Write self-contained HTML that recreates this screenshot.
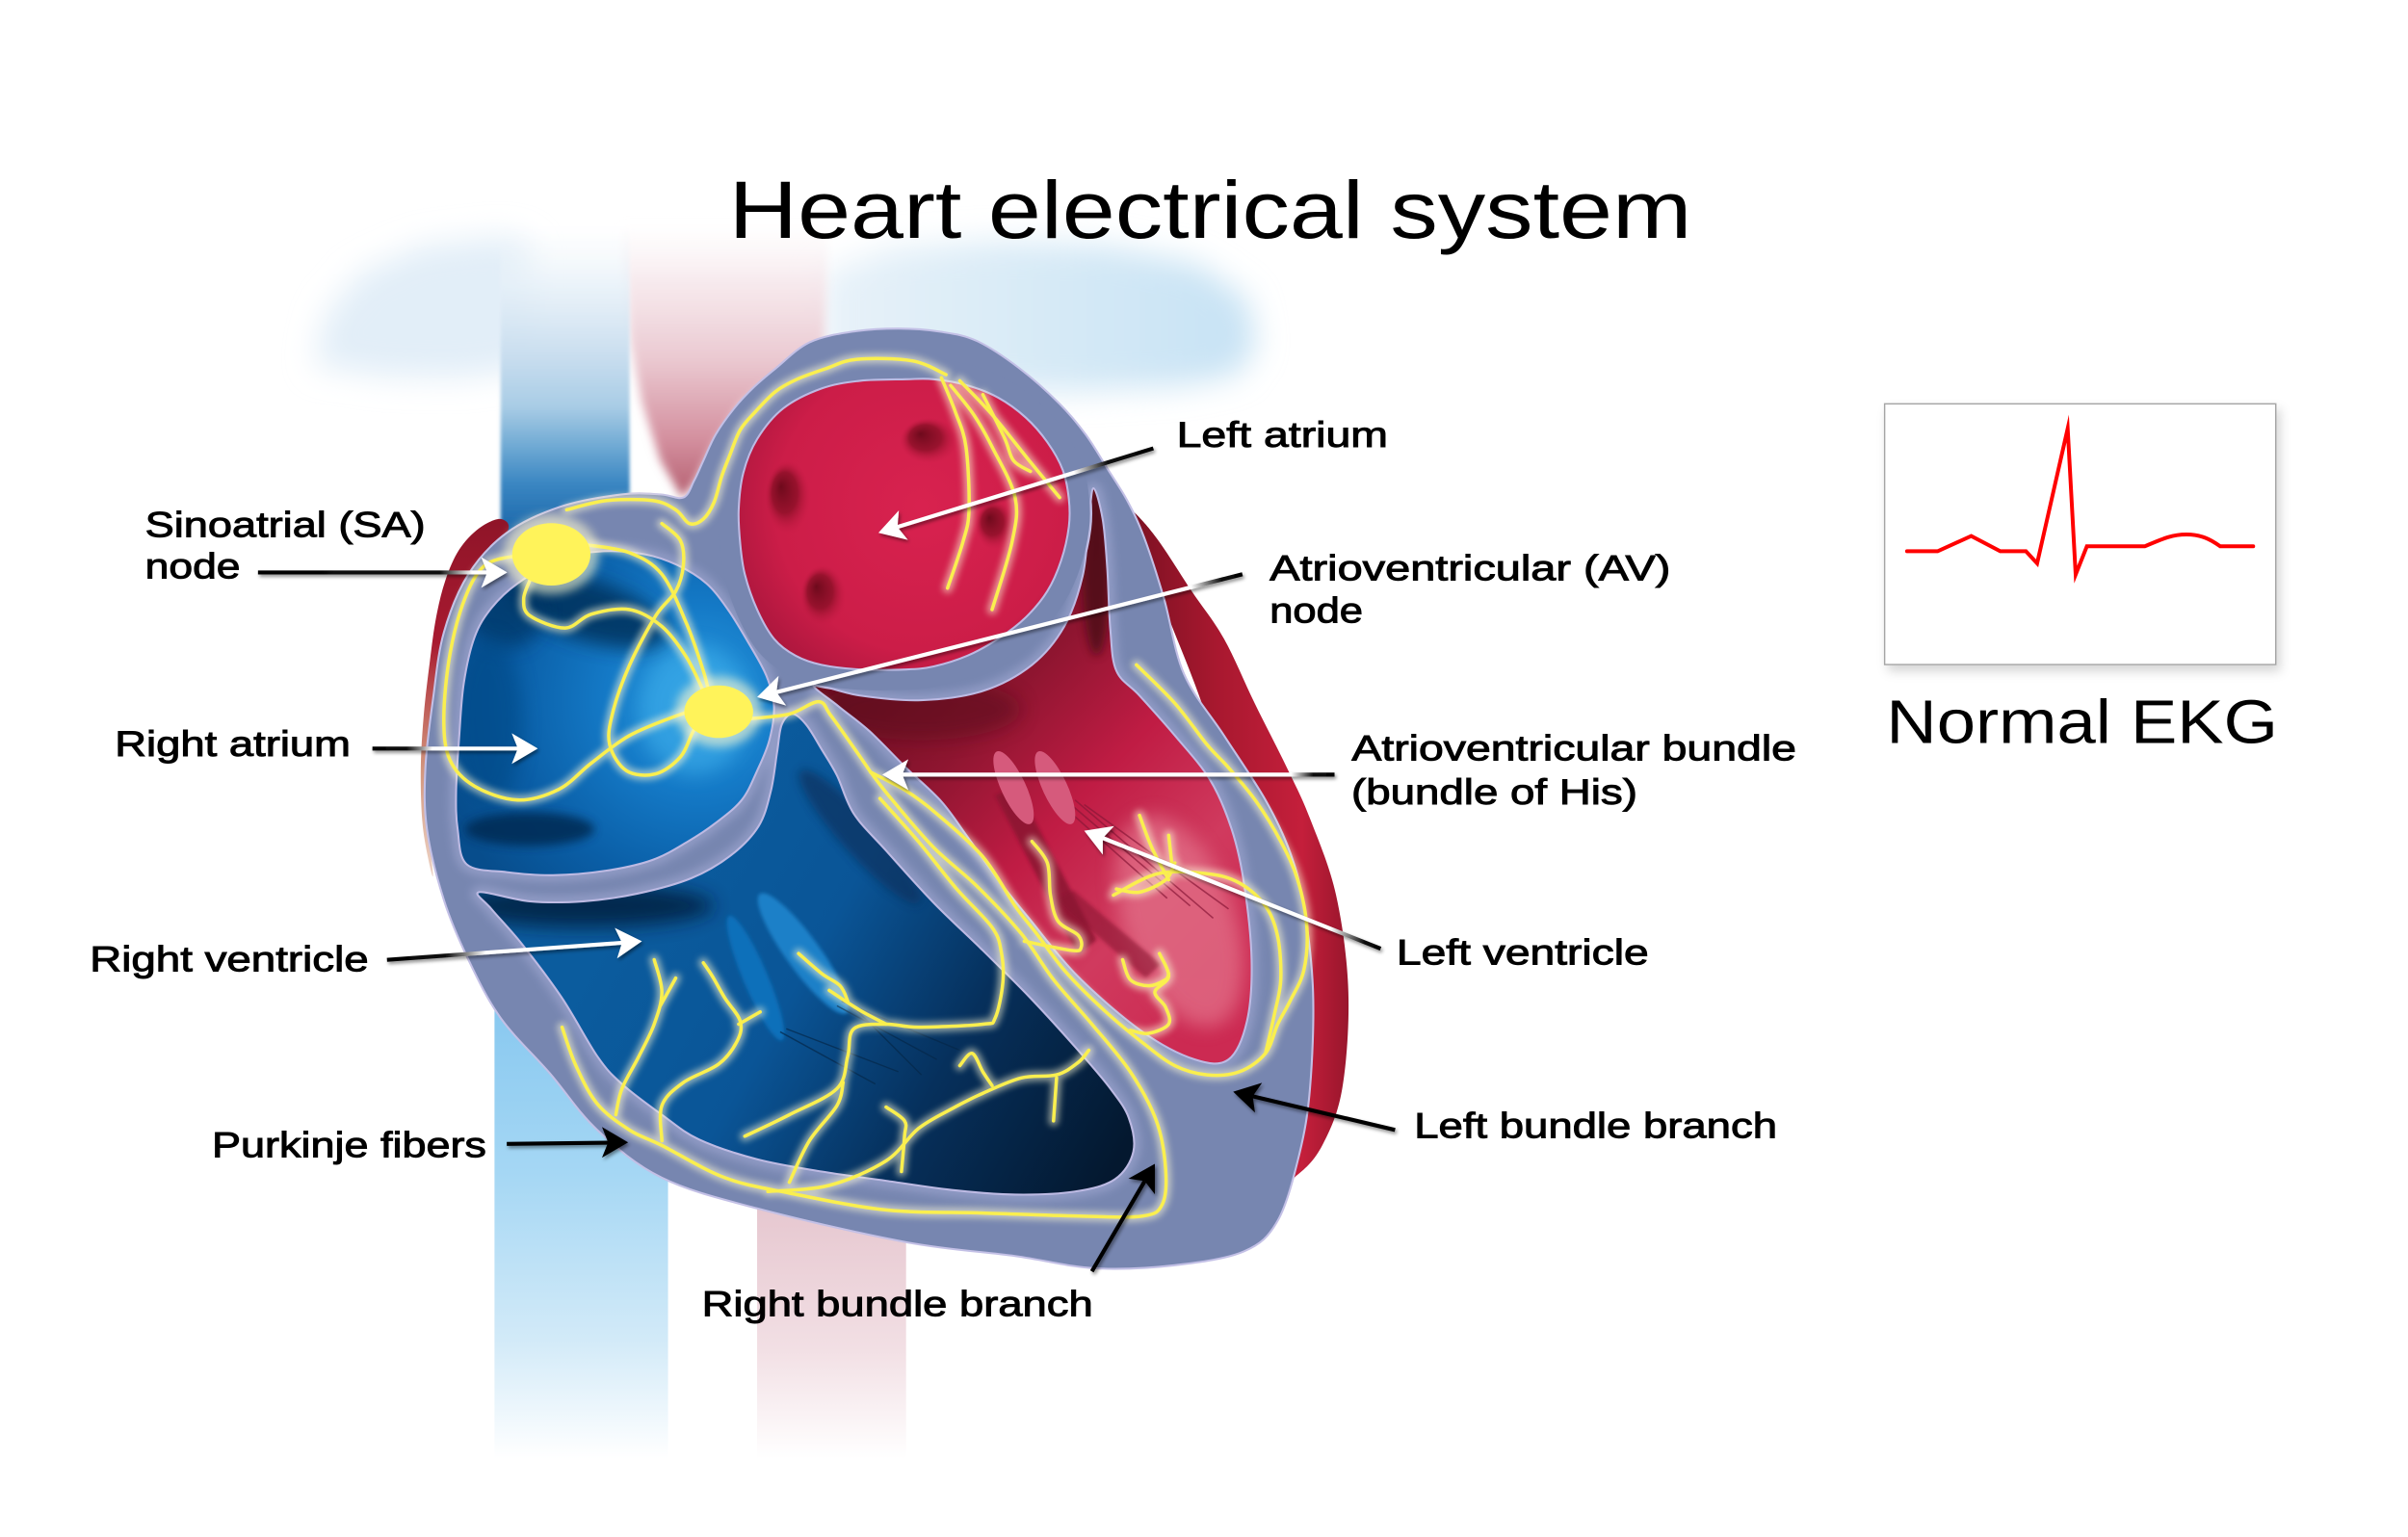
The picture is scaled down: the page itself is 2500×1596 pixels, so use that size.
<!DOCTYPE html>
<html><head><meta charset="utf-8"><title>Heart electrical system</title>
<style>
html,body{margin:0;padding:0;background:#fff;}
svg{display:block;}
text{font-family:"Liberation Sans",Arial,sans-serif;}
</style></head><body>
<svg xmlns="http://www.w3.org/2000/svg" width="2500" height="1596" viewBox="0 0 1568 1001">
<defs>
<filter id="bl12" x="-50%" y="-50%" width="200%" height="200%"><feGaussianBlur stdDeviation="10"/></filter>
<filter id="bl6" x="-50%" y="-50%" width="200%" height="200%"><feGaussianBlur stdDeviation="6"/></filter>
<filter id="bl3" x="-50%" y="-50%" width="200%" height="200%"><feGaussianBlur stdDeviation="3"/></filter>
<filter id="bl1" x="-50%" y="-50%" width="200%" height="200%"><feGaussianBlur stdDeviation="1.2"/></filter>
<filter id="glow" x="-10%" y="-10%" width="120%" height="120%"><feGaussianBlur stdDeviation="2.2"/></filter>
<filter id="sh" x="-20%" y="-60%" width="140%" height="220%"><feDropShadow dx="1" dy="1.5" stdDeviation="1.2" flood-color="#000" flood-opacity="0.45"/></filter>
<filter id="boxsh" x="-10%" y="-10%" width="125%" height="130%"><feDropShadow dx="2.5" dy="4" stdDeviation="3.5" flood-color="#000" flood-opacity="0.16"/></filter>

<linearGradient id="gSVC" gradientUnits="userSpaceOnUse" x1="0" y1="145" x2="0" y2="345">
<stop offset="0" stop-color="#f2f7fb" stop-opacity="0"/><stop offset="0.2" stop-color="#e6f0f8" stop-opacity="0.8"/><stop offset="0.45" stop-color="#c6dcee"/><stop offset="0.6" stop-color="#a8cce5"/><stop offset="0.74" stop-color="#6aa6d2"/><stop offset="0.85" stop-color="#3a86c2"/><stop offset="1" stop-color="#1c68ab"/></linearGradient>
<linearGradient id="gAo" gradientUnits="userSpaceOnUse" x1="0" y1="145" x2="0" y2="325">
<stop offset="0" stop-color="#f9f1f3" stop-opacity="0"/><stop offset="0.2" stop-color="#f6e8ec" stop-opacity="0.85"/><stop offset="0.5" stop-color="#eac8d0"/><stop offset="0.78" stop-color="#d4909f"/><stop offset="1" stop-color="#b45e6f"/></linearGradient>
<linearGradient id="gCloudR" gradientUnits="userSpaceOnUse" x1="536" y1="0" x2="818" y2="0">
<stop offset="0" stop-color="#e8f2f9"/><stop offset="1" stop-color="#c6e2f4"/></linearGradient>
<linearGradient id="gIVC" gradientUnits="userSpaceOnUse" x1="0" y1="640" x2="0" y2="950">
<stop offset="0" stop-color="#84c6ef"/><stop offset="0.4" stop-color="#a5d7f4"/><stop offset="0.75" stop-color="#d2eaf8"/><stop offset="1" stop-color="#ffffff"/></linearGradient>
<linearGradient id="gDA" gradientUnits="userSpaceOnUse" x1="0" y1="770" x2="0" y2="950">
<stop offset="0" stop-color="#e4c3cc"/><stop offset="0.6" stop-color="#f2dfe4"/><stop offset="1" stop-color="#ffffff"/></linearGradient>
<linearGradient id="gRed" gradientUnits="userSpaceOnUse" x1="720" y1="0" x2="880" y2="0">
<stop offset="0" stop-color="#6e0e1e"/><stop offset="0.45" stop-color="#a8182f"/><stop offset="0.8" stop-color="#c41f3b"/><stop offset="1" stop-color="#96152b"/></linearGradient>
<linearGradient id="gRedL" gradientUnits="userSpaceOnUse" x1="0" y1="335" x2="0" y2="575">
<stop offset="0" stop-color="#8e1428"/><stop offset="0.35" stop-color="#a81a30"/><stop offset="0.7" stop-color="#c06a48" stop-opacity="0.7"/><stop offset="1" stop-color="#c87a50" stop-opacity="0.3"/></linearGradient>
<radialGradient id="gRA" gradientUnits="userSpaceOnUse" cx="455" cy="455" r="175">
<stop offset="0" stop-color="#2b9de2"/><stop offset="0.35" stop-color="#1479c6"/><stop offset="0.7" stop-color="#0a5ea6"/><stop offset="1" stop-color="#074d8c"/></radialGradient>
<linearGradient id="gRV" gradientUnits="userSpaceOnUse" x1="400" y1="590" x2="720" y2="770">
<stop offset="0" stop-color="#0b5c9e"/><stop offset="0.35" stop-color="#0a5597"/><stop offset="0.65" stop-color="#06305c"/><stop offset="1" stop-color="#04182f"/></linearGradient>
<linearGradient id="gLV" gradientUnits="userSpaceOnUse" x1="560" y1="440" x2="790" y2="660">
<stop offset="0" stop-color="#6e0f22"/><stop offset="0.25" stop-color="#8e1530"/><stop offset="0.5" stop-color="#c01c44"/><stop offset="0.75" stop-color="#d03a5e"/><stop offset="1" stop-color="#cc2a52"/></linearGradient>
<radialGradient id="gLA" gradientUnits="userSpaceOnUse" cx="600" cy="330" r="135">
<stop offset="0" stop-color="#d8224f"/><stop offset="0.7" stop-color="#cc1d48"/><stop offset="1" stop-color="#a8163c"/></radialGradient>
<radialGradient id="gHole" cx="0.5" cy="0.5" r="0.5" fx="0.35" fy="0.35">
<stop offset="0" stop-color="#6e0a1c" stop-opacity="1"/><stop offset="0.55" stop-color="#8a0f26" stop-opacity="0.8"/><stop offset="1" stop-color="#c41a44" stop-opacity="0"/></radialGradient>

<linearGradient id="gaSA" gradientUnits="userSpaceOnUse" x1="168" y1="372.8" x2="318" y2="372.8">
<stop offset="0" stop-color="#000"/><stop offset="0.79" stop-color="#111"/><stop offset="0.86" stop-color="#888"/><stop offset="0.93" stop-color="#fff"/><stop offset="1" stop-color="#fff"/></linearGradient>
<linearGradient id="gaRA" gradientUnits="userSpaceOnUse" x1="242.5" y1="487.5" x2="338" y2="487.5">
<stop offset="0" stop-color="#000"/><stop offset="0.235" stop-color="#111"/><stop offset="0.33" stop-color="#888"/><stop offset="0.41" stop-color="#fff"/><stop offset="1" stop-color="#fff"/></linearGradient>
<linearGradient id="gaRV" gradientUnits="userSpaceOnUse" x1="252" y1="625.1" x2="405" y2="614">
<stop offset="0" stop-color="#000"/><stop offset="0.25" stop-color="#111"/><stop offset="0.34" stop-color="#888"/><stop offset="0.42" stop-color="#fff"/><stop offset="1" stop-color="#fff"/></linearGradient>
<linearGradient id="gaLA" gradientUnits="userSpaceOnUse" x1="751" y1="292" x2="584" y2="343">
<stop offset="0" stop-color="#000"/><stop offset="0.18" stop-color="#111"/><stop offset="0.25" stop-color="#888"/><stop offset="0.31" stop-color="#fff"/><stop offset="1" stop-color="#fff"/></linearGradient>
<linearGradient id="gaAV" gradientUnits="userSpaceOnUse" x1="809" y1="374" x2="506" y2="451">
<stop offset="0" stop-color="#000"/><stop offset="0.045" stop-color="#111"/><stop offset="0.08" stop-color="#888"/><stop offset="0.11" stop-color="#fff"/><stop offset="1" stop-color="#fff"/></linearGradient>
<linearGradient id="gaHis" gradientUnits="userSpaceOnUse" x1="869" y1="504.5" x2="587.5" y2="504.5">
<stop offset="0" stop-color="#000"/><stop offset="0.05" stop-color="#111"/><stop offset="0.075" stop-color="#888"/><stop offset="0.1" stop-color="#fff"/><stop offset="1" stop-color="#fff"/></linearGradient>
<linearGradient id="gaLV" gradientUnits="userSpaceOnUse" x1="899" y1="617.8" x2="718" y2="545.8">
<stop offset="0" stop-color="#000"/><stop offset="0.06" stop-color="#111"/><stop offset="0.12" stop-color="#888"/><stop offset="0.18" stop-color="#fff"/><stop offset="1" stop-color="#fff"/></linearGradient>

<!-- heart shapes -->
<polygon id="silS" class="sm" points="445,324 452,313 458,300 466,283 478,266 491,252 505,240 527,223 555,216 585,214 612,216 636,222 664,240 690,263 707,283 721,305 734,326 745,350 758,390 771,439 797,479 824,521 840,555 849,590 855,646 853,709 846,752 832,795 810,815 765,824 713,826 661,818 590,809 493,787 431,767 389,736 358,699 326,663 305,625 289,586 278,540 277,500 282,455 289,412 305,374 330,347 365,330 405,322 430,322"/>
<polygon id="raS" class="sm" points="365,364 393,359 420,361 441,368 460,380 474,397 487,418 499,440 504,460 501,482 493,502 483,521 466,536 448,548 425,560 395,567 360,570 330,568 304,563 298,540 297,515 299,480 302,445 309,415 320,396 337,380"/>
<polygon id="rvS" class="sm" points="312,581 345,587 380,587 415,582 450,572 476,557 494,538 502,515 506,490 509,472 516,465 525,472 535,488 545,505 556,530 577,554 608,588 640,619 671,650 702,684 723,709 735,728 738,750 726,768 700,776 661,778 620,775 577,769 535,763 493,755 455,742 431,726 405,706 389,688 366,650 340,615 320,592"/>
<polygon id="lvS" class="sm" points="530,446 560,453 600,456 640,450 672,433 693,408 705,375 709,340 712,318 718,338 721,370 723,410 727,437 742,453 765,479 788,508 802,540 810,575 815,625 812,665 800,690 778,690 744,672 702,636 670,598 650,573 630,545 613,522 590,500 566,476 546,460"/>
<polygon id="laS" class="sm" points="590,247 560,248 535,253 510,266 493,286 484,308 481,332 482,354 485,374 493,397 504,416 518,427 535,433 560,436 590,436 608,434 630,427 650,416 668,402 682,385 691,365 696,343 696,325 692,306 682,288 668,272 650,259 630,251 608,247"/>
<clipPath id="cRA"><use href="#raS"/></clipPath>
<clipPath id="cRV"><use href="#rvS"/></clipPath>
<clipPath id="cLV"><use href="#lvS"/></clipPath>
<clipPath id="cLA"><use href="#laS"/></clipPath>

<!-- conduction lines -->
<g id="yl" fill="none">
<polyline class="sm" points="369,332 395,326 425,326 440,332 449,341 458,338 465,327 470,310 475,297 482,280 492,268 505,255 519,247 538,240 558,234 594,235 616,244"/>
<polyline class="sm" points="613,246 622,268 629,291 631,332 627,353 617,383"/>
<polyline class="sm" points="619,251 634,270 646,291 661,324 659,353 646,397"/>
<polyline class="sm" points="625,248 646,270 671,301 690,324"/>
<polyline class="sm" points="640,257 654,285 660,300 671,307"/>
<polyline class="sm" points="383,355 410,360 431,374 447,406 458,437 462,453"/>
<polyline class="sm" points="431,341 443,352 445,368 440,385 427,401 410,433 399,464 397,485 408,502 427,504 443,493 451,477 458,465"/>
<polyline class="sm" points="345,378 341,390 345,401 368,409 385,400 410,397 431,408 447,428 458,450"/>
<polyline class="sm" points="336,362 316,368 303,389 293,426 289,468 293,495 309,512 337,521 364,514 385,497 410,479 441,466 455,462"/>
<polyline class="sm" points="489,468 514,465 533,457 541,466 556,487 567,503"/>
<polyline class="sm" points="567,503 581,521 608,552 636,577 665,608 686,638 711,667 736,698 753,730 759,761 757,784 744,792 702,792 640,790 577,788 514,777 472,767 431,746 410,736 389,719 375,694 366,669"/>
<polyline class="sm" points="500,776 540,772 577,756 598,735 620,722 640,712 665,702 688,700 702,692 709,684"/>
<polyline class="sm" points="688,702 686,730"/>
<polyline class="sm" points="573,520 598,548 623,579 646,604 652,620 653,640 648,663 640,667 598,669 577,667 556,670 552,688 545,709 514,726 485,740"/>
<polyline class="sm" points="567,503 590,515 610,530 640,558 661,590 675,608 694,633 719,658 744,679 765,694 786,700 807,698 824,686 832,667 840,652 849,632 851,604 845,573 834,548 818,522 800,500 786,485 765,458 740,433"/>
<polyline class="sm" points="725,583 754,569 786,569 807,575 824,590 832,610 834,638 830,660 824,686"/>
<polyline class="sm" points="401,726 405,709 416,688 426,667 431,646 426,625"/>
<polyline class="sm" points="430,655 440,637"/>
<polyline class="sm" points="431,743 431,720 445,705 468,693 480,678 482,665 472,650 464,636 458,627"/>
<polyline class="sm" points="481,667 495,659"/>
<polyline class="sm" points="514,770 527,743 545,720 549,705"/>
<polyline class="sm" points="520,621 535,634 547,642 552,652"/>
<polyline class="sm" points="540,645 560,658 577,667"/>
<polyline class="sm" points="625,694 633,686 640,698 646,707"/>
<polyline class="sm" points="577,721 589,730 589,740 587,763"/>
<polyline class="sm" points="672,548 682,562 684,583 689,600 702,609 704,617 698,619 667,613"/>
<polyline class="sm" points="731,625 736,638 748,642 759,638 761,634"/>
<polyline class="sm" points="755,621 761,636 752,646 759,656 761,667 748,673 736,671"/>
<polyline class="sm" points="727,579 742,581 759,573 765,562"/>
<polyline class="sm" points="742,531 750,552 761,573"/>
<polyline class="sm" points="761,544 763,562"/>
</g>
</defs>

<rect x="0" y="0" width="1568" height="1001" fill="#fff"/>

<!-- background vessels -->
<polygon points="205,238 212,205 235,178 275,160 330,154 345,160 345,240 300,246 250,245" fill="#e2eef8" filter="url(#bl12)"/>
<polygon points="536,178 580,162 650,157 720,160 780,172 812,195 818,225 805,244 770,251 700,255 620,254 560,250 536,244" fill="url(#gCloudR)" filter="url(#bl12)"/>
<polygon points="404,140 540,140 536,240 500,250 483,263 465,290 452,315 444,324 430,300 418,262 410,220" fill="url(#gAo)" filter="url(#bl3)"/>
<rect x="326" y="140" width="84" height="210" fill="url(#gSVC)" filter="url(#bl1)"/>
<rect x="322" y="620" width="113" height="330" fill="url(#gIVC)"/>
<rect x="493" y="760" width="97" height="190" fill="url(#gDA)"/>

<!-- outer red -->
<polygon class="sm" points="725,322 740,335 755,353 776,385 797,416 817,458 838,500 853,533 870,583 878,646 874,709 861,746 845,765 830,770 820,700 800,520 760,400 730,340" fill="url(#gRed)"/>
<polygon class="sm" points="326,338 312,344 299,358 290,378 284,402 280,430 276,465 274,500 275,535 279,560 282,570 279,540 277,500 282,455 289,412 305,374 330,347" fill="url(#gRedL)"/>

<!-- gray body -->
<use href="#silS" fill="#7786b0" stroke="#c3c0e6" stroke-width="1.3"/>

<!-- cavity halos -->
<g fill="none" stroke="#a7aed8" stroke-width="8" opacity="0.55" filter="url(#bl3)">
<use href="#raS"/><use href="#rvS"/><use href="#lvS"/>
</g>

<!-- right atrium -->
<g clip-path="url(#cRA)">
<use href="#raS" fill="url(#gRA)"/>
<ellipse cx="382" cy="397" rx="55" ry="20" transform="rotate(18 382 397)" fill="#06305c" opacity="0.85" filter="url(#bl6)"/>
<ellipse cx="330" cy="400" rx="24" ry="22" fill="#063564" opacity="0.7" filter="url(#bl6)"/>
<ellipse cx="318" cy="470" rx="22" ry="55" fill="#064a86" opacity="0.6" filter="url(#bl6)"/>
<ellipse cx="345" cy="540" rx="42" ry="11" fill="#052b52" opacity="0.85" filter="url(#bl3)"/>
<ellipse cx="452" cy="462" rx="36" ry="42" fill="#40b0ec" opacity="0.55" filter="url(#bl6)"/>
</g>
<use href="#raS" fill="none" stroke="#bdbae3" stroke-width="1.3"/>

<!-- right ventricle -->
<g clip-path="url(#cRV)">
<use href="#rvS" fill="url(#gRV)"/>
<ellipse cx="380" cy="590" rx="85" ry="14" fill="#041e3a" opacity="0.8" filter="url(#bl6)"/>
<ellipse cx="560" cy="545" rx="58" ry="12" transform="rotate(48 560 545)" fill="#07325e" opacity="0.7" filter="url(#bl3)"/>
<ellipse cx="492" cy="637" rx="44" ry="8" transform="rotate(67 492 637)" fill="#0e70ba" filter="url(#bl1)"/>
<ellipse cx="523" cy="621" rx="48" ry="11" transform="rotate(54 523 621)" fill="#1a80c8" filter="url(#bl1)"/>
<g stroke="#05284a" stroke-width="0.9" opacity="0.7">
<line x1="508" y1="672" x2="570" y2="706"/><line x1="512" y1="670" x2="585" y2="698"/>
<line x1="545" y1="655" x2="610" y2="690"/><line x1="548" y1="652" x2="625" y2="684"/>
<line x1="550" y1="650" x2="600" y2="700"/>
</g>
</g>
<use href="#rvS" fill="none" stroke="#bdbae3" stroke-width="1.3"/>

<!-- left ventricle -->
<g clip-path="url(#cLV)">
<use href="#lvS" fill="url(#gLV)"/>
<ellipse cx="600" cy="462" rx="65" ry="20" fill="#5a0a1a" opacity="0.55" filter="url(#bl6)"/>
<ellipse cx="714" cy="372" rx="9" ry="55" fill="#4a0814" opacity="0.8" filter="url(#bl3)"/>
<ellipse cx="768" cy="600" rx="36" ry="72" transform="rotate(-20 768 600)" fill="#e27088" opacity="0.75" filter="url(#bl6)"/>
<polygon points="648,518 662,512 714,612 702,622" fill="#8a1230" opacity="0.85" filter="url(#bl1)"/>
<polygon points="688,586 699,580 756,628 746,637" fill="#8a1230" opacity="0.6" filter="url(#bl1)"/>
<g stroke="#8a1838" stroke-width="1" opacity="0.7">
<line x1="690" y1="523" x2="760" y2="585"/><line x1="695" y1="522" x2="775" y2="590"/>
<line x1="700" y1="521" x2="790" y2="598"/><line x1="706" y1="524" x2="800" y2="592"/>
</g>
<ellipse cx="660" cy="513" rx="8" ry="26" transform="rotate(-25 660 513)" fill="#d65a7c"/>
<ellipse cx="687" cy="513" rx="8" ry="26" transform="rotate(-25 687 513)" fill="#d65a7c"/>
</g>
<use href="#lvS" fill="none" stroke="#bdbae3" stroke-width="1.3"/>

<!-- left atrium ring + cavity -->
<g clip-path="url(#cLV)"><use href="#laS" fill="none" stroke="#c0bde3" stroke-width="29.5"/></g>
<use href="#laS" fill="none" stroke="#7786b0" stroke-width="26.5" stroke-linejoin="round"/>
<g clip-path="url(#cLA)">
<use href="#laS" fill="url(#gLA)"/>
<ellipse cx="513" cy="324" rx="15" ry="24" fill="url(#gHole)"/>
<ellipse cx="536" cy="388" rx="15" ry="20" fill="url(#gHole)"/>
<ellipse cx="605" cy="287" rx="19" ry="15" fill="url(#gHole)"/>
<ellipse cx="648" cy="342" rx="13" ry="16" fill="url(#gHole)"/>
</g>
<use href="#laS" fill="none" stroke="#bdbae3" stroke-width="1.3"/>

<!-- conduction system -->
<use href="#yl" stroke="#fffbd6" stroke-width="6.5" opacity="0.55" filter="url(#glow)" stroke-linecap="round" stroke-linejoin="round"/>
<use href="#yl" stroke="#faef4e" stroke-width="2.2" stroke-linecap="round" stroke-linejoin="round"/>
<ellipse cx="359" cy="361" rx="31" ry="26" fill="#fffbd0" opacity="0.6" filter="url(#bl3)"/>
<ellipse cx="468" cy="463.5" rx="28" ry="23" fill="#fffbd0" opacity="0.6" filter="url(#bl3)"/>
<ellipse cx="359" cy="361" rx="25.5" ry="20.3" fill="#fff35a"/>
<ellipse cx="468" cy="463.5" rx="22.4" ry="17.1" fill="#fff35a"/>

<!-- arrows -->
<g filter="url(#sh)">
<line x1="168" y1="372.8" x2="318" y2="372.8" stroke="url(#gaSA)" stroke-width="2.6"/>
<polygon points="330.3,372.8 313.3,382.8 317.3,372.8 313.3,362.8" fill="#fff"/>
</g>
<g filter="url(#sh)">
<line x1="242.5" y1="487.5" x2="338" y2="487.5" stroke="url(#gaRA)" stroke-width="2.6"/>
<polygon points="350.2,487.5 333.2,497.5 337.2,487.5 333.2,477.5" fill="#fff"/>
</g>
<g filter="url(#sh)">
<line x1="252" y1="625.1" x2="405.5" y2="614" stroke="url(#gaRV)" stroke-width="2.6"/>
<polygon points="418,613 401.8,624.2 405,614 400.3,604.3" fill="#fff"/>
</g>
<g filter="url(#sh)">
<line x1="330" y1="745" x2="397" y2="744.2" stroke="#000" stroke-width="2.6"/>
<polygon points="409,744 392,754 396,744 392,734" fill="#000"/>
</g>
<g filter="url(#sh)">
<line x1="711" y1="828" x2="745.4" y2="769.2" stroke="#000" stroke-width="2.6"/>
<polygon points="752,758 752,777.8 745.4,769.2 734.8,767.6" fill="#000"/>
</g>
<g filter="url(#sh)">
<line x1="908.4" y1="735.9" x2="815.7" y2="714" stroke="#000" stroke-width="2.6"/>
<polygon points="803,711 821.8,705.2 815.7,714 817.2,724.6" fill="#000"/>
</g>
<g filter="url(#sh)">
<line x1="751" y1="292" x2="584.4" y2="343.2" stroke="url(#gaLA)" stroke-width="2.6"/>
<polygon points="572,347 585.3,332.4 584.4,343.2 591.2,351.6" fill="#fff"/>
</g>
<g filter="url(#sh)">
<line x1="809" y1="374" x2="505.6" y2="450.8" stroke="url(#gaAV)" stroke-width="2.6"/>
<polygon points="493,454 507,440.1 505.6,450.8 511.9,459.5" fill="#fff"/>
</g>
<g filter="url(#sh)">
<line x1="869" y1="504.5" x2="587.5" y2="504.5" stroke="url(#gaHis)" stroke-width="2.6"/>
<polygon points="574.5,504.5 591.5,494.5 587.5,504.5 591.5,514.5" fill="#fff"/>
</g>
<g filter="url(#sh)">
<line x1="899" y1="617.8" x2="718.1" y2="545.8" stroke="url(#gaLV)" stroke-width="2.6"/>
<polygon points="706,541 725.5,538 718.1,545.8 718.1,556.6" fill="#fff"/>
</g>

<!-- labels -->
<g font-size="23.5" fill="#000" stroke="#000" stroke-width="0.6">
<text x="94.5" y="349.6" textLength="182.5" lengthAdjust="spacingAndGlyphs">Sinoatrial (SA)</text>
<text x="94.5" y="376.7" textLength="62" lengthAdjust="spacingAndGlyphs">node</text>
<text x="74.8" y="492.3" textLength="153.5" lengthAdjust="spacingAndGlyphs">Right atrium</text>
<text x="58.5" y="632.4" textLength="181.5" lengthAdjust="spacingAndGlyphs">Right ventricle</text>
<text x="138" y="753.7" textLength="178.7" lengthAdjust="spacingAndGlyphs">Purkinje fibers</text>
<text x="457" y="857" textLength="254.7" lengthAdjust="spacingAndGlyphs">Right bundle branch</text>
<text x="766.2" y="291" textLength="137.6" lengthAdjust="spacingAndGlyphs">Left atrium</text>
<text x="826.8" y="378" textLength="261" lengthAdjust="spacingAndGlyphs">Atrioventricular (AV)</text>
<text x="826.8" y="405.6" textLength="60.7" lengthAdjust="spacingAndGlyphs">node</text>
<text x="880.2" y="495.1" textLength="289.5" lengthAdjust="spacingAndGlyphs">Atrioventricular bundle</text>
<text x="880" y="523.7" textLength="186.2" lengthAdjust="spacingAndGlyphs">(bundle of His)</text>
<text x="909.4" y="628.2" textLength="164.2" lengthAdjust="spacingAndGlyphs">Left ventricle</text>
<text x="920.9" y="741.1" textLength="236.3" lengthAdjust="spacingAndGlyphs">Left bundle branch</text>
</g>
<text x="474.6" y="155" font-size="53" fill="#000" textLength="627" lengthAdjust="spacingAndGlyphs">Heart electrical system</text>

<!-- EKG -->
<rect x="1227.2" y="263" width="254.7" height="169.8" fill="#fff" stroke="#a5a5a5" stroke-width="0.9" filter="url(#boxsh)"/>
<path d="M1241.8,359 L1261.7,359 L1283.6,349.1 L1302.5,359 L1319.2,359 L1326.5,366.9 L1346.4,279.1 L1351.6,374.2 L1358.9,355.8 L1396.6,355.8 C1408,351 1414,348.1 1423.7,348.1 C1433,348.1 1439,351 1445.7,355.8 L1467.2,355.8" fill="none" stroke="#ff0000" stroke-width="2.5" stroke-linejoin="miter" stroke-miterlimit="20" stroke-linecap="round"/>
<text x="1228.3" y="484" font-size="40" fill="#000" textLength="255" lengthAdjust="spacingAndGlyphs">Normal EKG</text>
</svg>
<script>
(function(){
 var NS='http://www.w3.org/2000/svg';
 function cr(P,closed){
  var n=P.length;
  function g(i){ if(closed) return P[((i%n)+n)%n]; return P[Math.max(0,Math.min(n-1,i))]; }
  var d='M'+P[0][0]+' '+P[0][1];
  var segs=closed?n:n-1;
  for(var i=0;i<segs;i++){
   var p0=g(i-1),p1=g(i),p2=g(i+1),p3=g(i+2);
   var c1x=p1[0]+(p2[0]-p0[0])/6, c1y=p1[1]+(p2[1]-p0[1])/6;
   var c2x=p2[0]-(p3[0]-p1[0])/6, c2y=p2[1]-(p3[1]-p1[1])/6;
   d+='C'+c1x.toFixed(2)+' '+c1y.toFixed(2)+' '+c2x.toFixed(2)+' '+c2y.toFixed(2)+' '+p2[0]+' '+p2[1];
  }
  if(closed) d+='Z';
  return d;
 }
 var els=document.querySelectorAll('.sm');
 for(var k=0;k<els.length;k++){
  var el=els[k];
  var pts=el.getAttribute('points').trim().split(/\s+/).map(function(s){var a=s.split(',');return [parseFloat(a[0]),parseFloat(a[1])];});
  if(pts.length<2) continue;
  var p=document.createElementNS(NS,'path');
  for(var j=0;j<el.attributes.length;j++){var at=el.attributes[j]; if(at.name!=='points') p.setAttribute(at.name,at.value);}
  p.setAttribute('d',cr(pts,el.tagName.toLowerCase()==='polygon'));
  el.parentNode.replaceChild(p,el);
 }
})();
</script>
</body></html>
